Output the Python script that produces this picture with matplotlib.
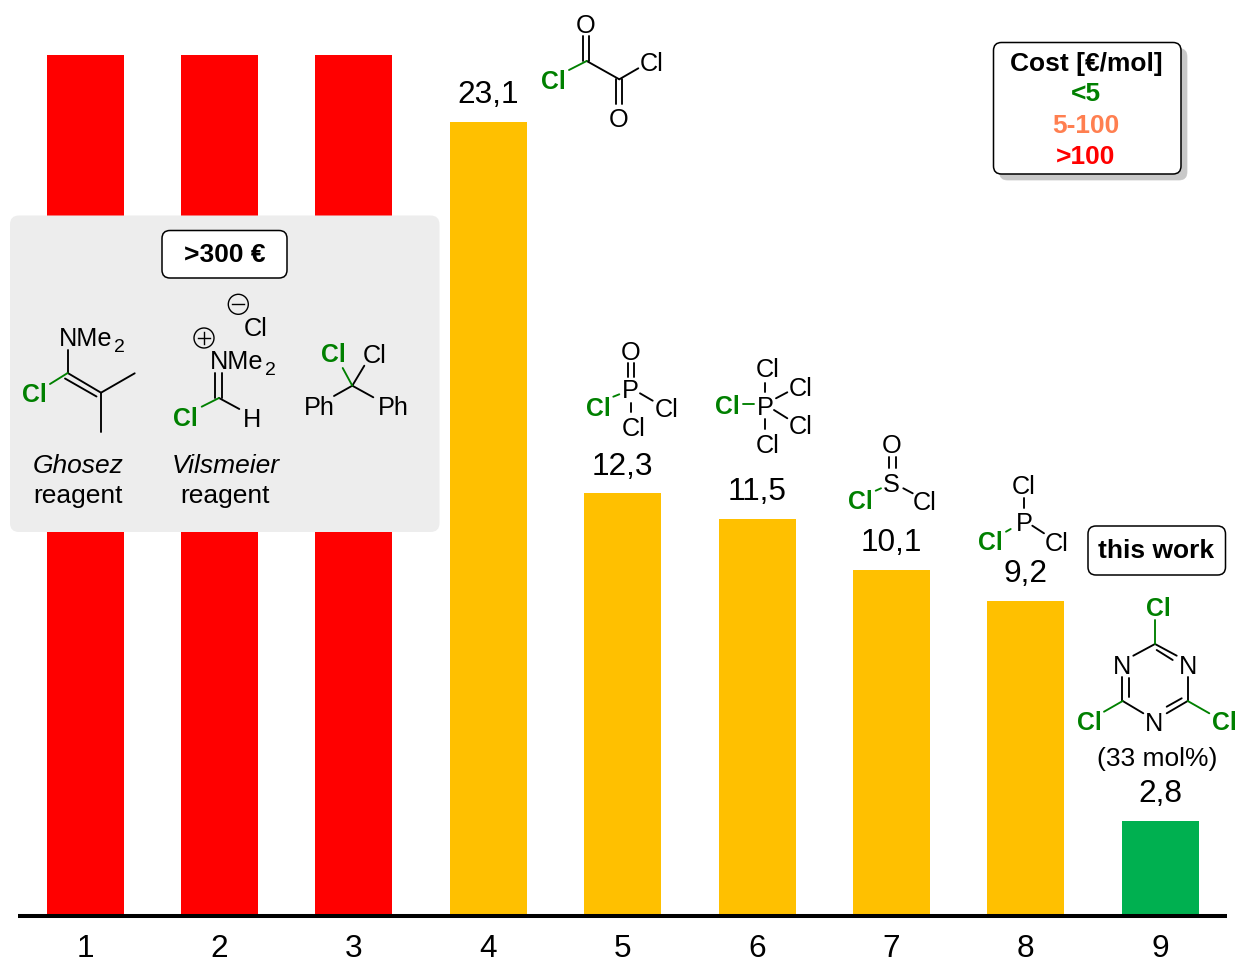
import matplotlib
matplotlib.use("Agg")
import matplotlib.pyplot as plt
from matplotlib.patches import FancyBboxPatch, Circle

# data
reagents = [1, 2, 3, 4, 5, 6, 7, 8, 9]
bar_values = [25.05, 25.05, 25.05, 23.1, 12.3, 11.55, 10.07, 9.17, 2.77]
bar_labels = ["", "", "", "23,1", "12,3", "11,5", "10,1", "9,2", "2,8"]
bar_colors = ["#FF0000", "#FF0000", "#FF0000", "#FFC000", "#FFC000",
              "#FFC000", "#FFC000", "#FFC000", "#00B050"]
legend_title = "Cost [€/mol]"
legend_items = ["<5", "5-100", ">100"]

GREEN = "#008000"
ORANGE = "#FF7F50"
RED = "#FF0000"

plt.rcParams["font.family"] = ["Liberation Sans", "DejaVu Sans"]

W, H = 1237, 964
fig = plt.figure(figsize=(W / 100, H / 100), dpi=100, facecolor="white")

# bar chart
ax = fig.add_axes([18.0 / W, (H - 916) / H, 1209.4 / W, 893.6 / H])
ax.bar(reagents, bar_values, width=0.573, color=bar_colors)
for x, v, lab in zip(reagents, bar_values, bar_labels):
    if lab:
        ax.annotate(lab, (x, v), xytext=(0, 13.5), textcoords="offset points",
                    ha="center", va="baseline", fontsize=22.8)
ax.set_xlim(0.5, 9.5)
ax.set_ylim(0, 26)
ax.set_xticks(reagents)
ax.set_yticks([])
ax.tick_params(axis="x", length=0, pad=13, labelsize=22.8)
for s in ["top", "left", "right"]:
    ax.spines[s].set_visible(False)
ax.spines["bottom"].set_linewidth(2.9)
ax.spines["bottom"].set_capstyle("butt")

# everything else is drawn in pixel coordinates on top
ov = fig.add_axes([0, 0, 1, 1], zorder=5)
ov.set_xlim(0, W)
ov.set_ylim(H, 0)
ov.axis("off")
ov.patch.set_alpha(0)


def rbox(x0, y0, x1, y1, r=8, fc="white", ec="black", lw=1.1, z=2):
    ov.add_patch(FancyBboxPatch((x0, y0), x1 - x0, y1 - y0,
                                boxstyle="round,pad=0,rounding_size=%g" % r,
                                fc=fc, ec=ec, lw=lw, zorder=z))


def atom(x, y, s, color="black", bold=False, size=18.2):
    if color == GREEN:
        bold = True
        size = 17.8
    ov.text(x, y + 0.358 * size / 0.72, s, color=color, fontsize=size,
            fontweight="bold" if bold else "normal",
            ha="center", va="baseline", zorder=4)


def label(x, y, s, color="black", bold=False, italic=False, size=19):
    ov.text(x, y, s, color=color, fontsize=size, ha="center", va="baseline",
            fontweight="bold" if bold else "normal",
            fontstyle="italic" if italic else "normal", zorder=4)


def nme2(x, y):
    ov.text(x, y + 9, "NMe", fontsize=18.2, ha="left", va="baseline", zorder=4)
    ov.text(x + 61, y + 15, "2", fontsize=14, ha="center", va="baseline", zorder=4)


def bonds(pts, color="black"):
    for (x0, y0, x1, y1) in pts:
        ov.plot([x0, x1], [y0, y1], color=color, lw=1.35,
                solid_capstyle="round", zorder=3)


def charge(x, y, s):
    ov.add_patch(Circle((x, y), 10, fc="none", ec="black", lw=1.0, zorder=4))
    ov.plot([x - 6, x + 6], [y, y], color="black", lw=1.0, zorder=4)
    if s == "+":
        ov.plot([x, x], [y - 6, y + 6], color="black", lw=1.0, zorder=4)


# grey panel
rbox(10, 215.5, 439.5, 532, r=9, fc="#EDEDED", ec="none", lw=0, z=1)
rbox(162, 230.5, 287, 278)
label(224.5, 262, ">300 €", bold=True)

# Ghosez reagent
nme2(58.5, 337)
atom(34.3, 393, "Cl", GREEN)
bonds([(67.7, 350, 67.7, 373), (67.7, 373, 101, 392.7), (65, 378.5, 96.5, 396.5),
       (101, 392.7, 134.7, 373.3), (101, 392.7, 101, 431.7)])
bonds([(50, 384, 67.7, 373)], GREEN)
label(78, 473, "Ghosez", italic=True)
label(78, 503.5, "reagent")

# Vilsmeier reagent
charge(238.3, 304.3, "-")
atom(255.7, 327, "Cl")
charge(204, 338, "+")
nme2(209.5, 360)
atom(185.7, 416.7, "Cl", GREEN)
atom(251.7, 417.7, "H")
bonds([(215, 373, 215, 398), (221.7, 373, 221.7, 398), (219, 398, 239.3, 409)])
bonds([(201.7, 406.7, 219, 398)], GREEN)
label(226, 473, "Vilsmeier", italic=True)
label(224.5, 503.5, "reagent")

# Ph2CCl2
atom(333.3, 352.7, "Cl", GREEN)
atom(374.7, 354, "Cl")
atom(319.3, 405.7, "Ph")
atom(393.3, 405.7, "Ph")
bonds([(352.3, 385.7, 364.3, 365.7), (352.3, 385.7, 334, 396), (352.3, 385.7, 373.3, 397.3)])
bonds([(342.7, 368, 352.3, 385.7)], GREEN)

# oxalyl chloride
atom(586, 24, "O")
atom(619, 118.3, "O")
atom(553.3, 80, "Cl", GREEN)
atom(652, 61.7, "Cl")
bonds([(583.3, 36, 583.3, 61), (589.3, 36, 589.3, 61), (616, 79.3, 616, 104),
       (622.3, 79.3, 622.3, 104), (586.7, 61, 619.3, 79.3), (619.3, 79.3, 638.3, 68.3)])
bonds([(569, 70, 586.7, 61)], GREEN)

# POCl3
atom(630.7, 350.7, "O")
atom(630.7, 389.3, "P")
atom(598.3, 406.7, "Cl", GREEN)
atom(666.7, 407.7, "Cl")
atom(634, 426.7, "Cl")
bonds([(627.7, 363, 627.7, 376.7), (634.3, 363, 634.3, 376.7),
       (640, 393.3, 652.7, 400.7), (631, 402.7, 631, 411.7)])
bonds([(613.3, 396.7, 619.3, 394.3)], GREEN)

# PCl5
atom(765, 406, "P")
atom(767.7, 368.3, "Cl")
atom(800.7, 386.7, "Cl")
atom(800.7, 425, "Cl")
atom(767.7, 444, "Cl")
atom(727.3, 405, "Cl", GREEN)
bonds([(765, 382.7, 765, 391.7), (776, 398.3, 787.3, 392.3),
       (774, 410, 787.3, 418.3), (765, 419.3, 765, 429.3)])
bonds([(742.7, 404.3, 754, 404.3)], GREEN)

# SOCl2
atom(891.7, 444, "O")
atom(891.7, 482.7, "S")
atom(860, 500, "Cl", GREEN)
atom(924.3, 500.7, "Cl")
bonds([(889, 456.7, 889, 468.3), (895.7, 456.7, 895.7, 468.3), (903.3, 488.3, 912.7, 493.3)])
bonds([(875.7, 490.7, 881, 488.3)], GREEN)

# PCl3
atom(1023.3, 485, "Cl")
atom(1024.3, 522.3, "P")
atom(990.7, 541, "Cl", GREEN)
atom(1056.7, 541.7, "Cl")
bonds([(1024, 498.3, 1024, 508.3), (1032.3, 525.7, 1044, 533.3)])
bonds([(1006, 531.7, 1010.7, 529)], GREEN)

# this work
rbox(1088, 526, 1225.5, 575)
label(1156.5, 558, "this work", bold=True)

# cyanuric chloride
atom(1158.3, 606.7, "Cl", GREEN)
atom(1089.3, 721, "Cl", GREEN)
atom(1224, 721, "Cl", GREEN)
atom(1121.7, 665, "N")
atom(1187.7, 665, "N")
atom(1154.3, 721.7, "N")
bonds([(1133.3, 655.7, 1155, 644), (1155, 644, 1176.7, 655.7), (1156.7, 650, 1172.7, 660),
       (1121.7, 676.7, 1121.7, 701), (1129.3, 678, 1129.3, 696.7), (1187.7, 676.7, 1187.7, 701),
       (1122.7, 701, 1143.3, 713.3), (1187.7, 701, 1166.7, 713.3), (1166.7, 706.7, 1181.7, 698.3)])
bonds([(1155, 620, 1155, 644), (1122.7, 701, 1104, 711.7), (1187.7, 701, 1209.3, 713.3)], GREEN)
label(1157, 766, "(33 mol%)")

# cost legend
rbox(999.5, 48.5, 1187, 180, fc="#C8C8C8", ec="#C8C8C8", lw=0.5, z=1)
rbox(993.5, 42.5, 1181, 174, z=2)
label(1086, 71, legend_title, bold=True)
label(1086, 101, legend_items[0], color=GREEN, bold=True)
label(1086, 133, legend_items[1], color=ORANGE, bold=True)
label(1086, 164, legend_items[2], color=RED, bold=True)

fig.savefig("out.png", dpi=100, facecolor="white")
